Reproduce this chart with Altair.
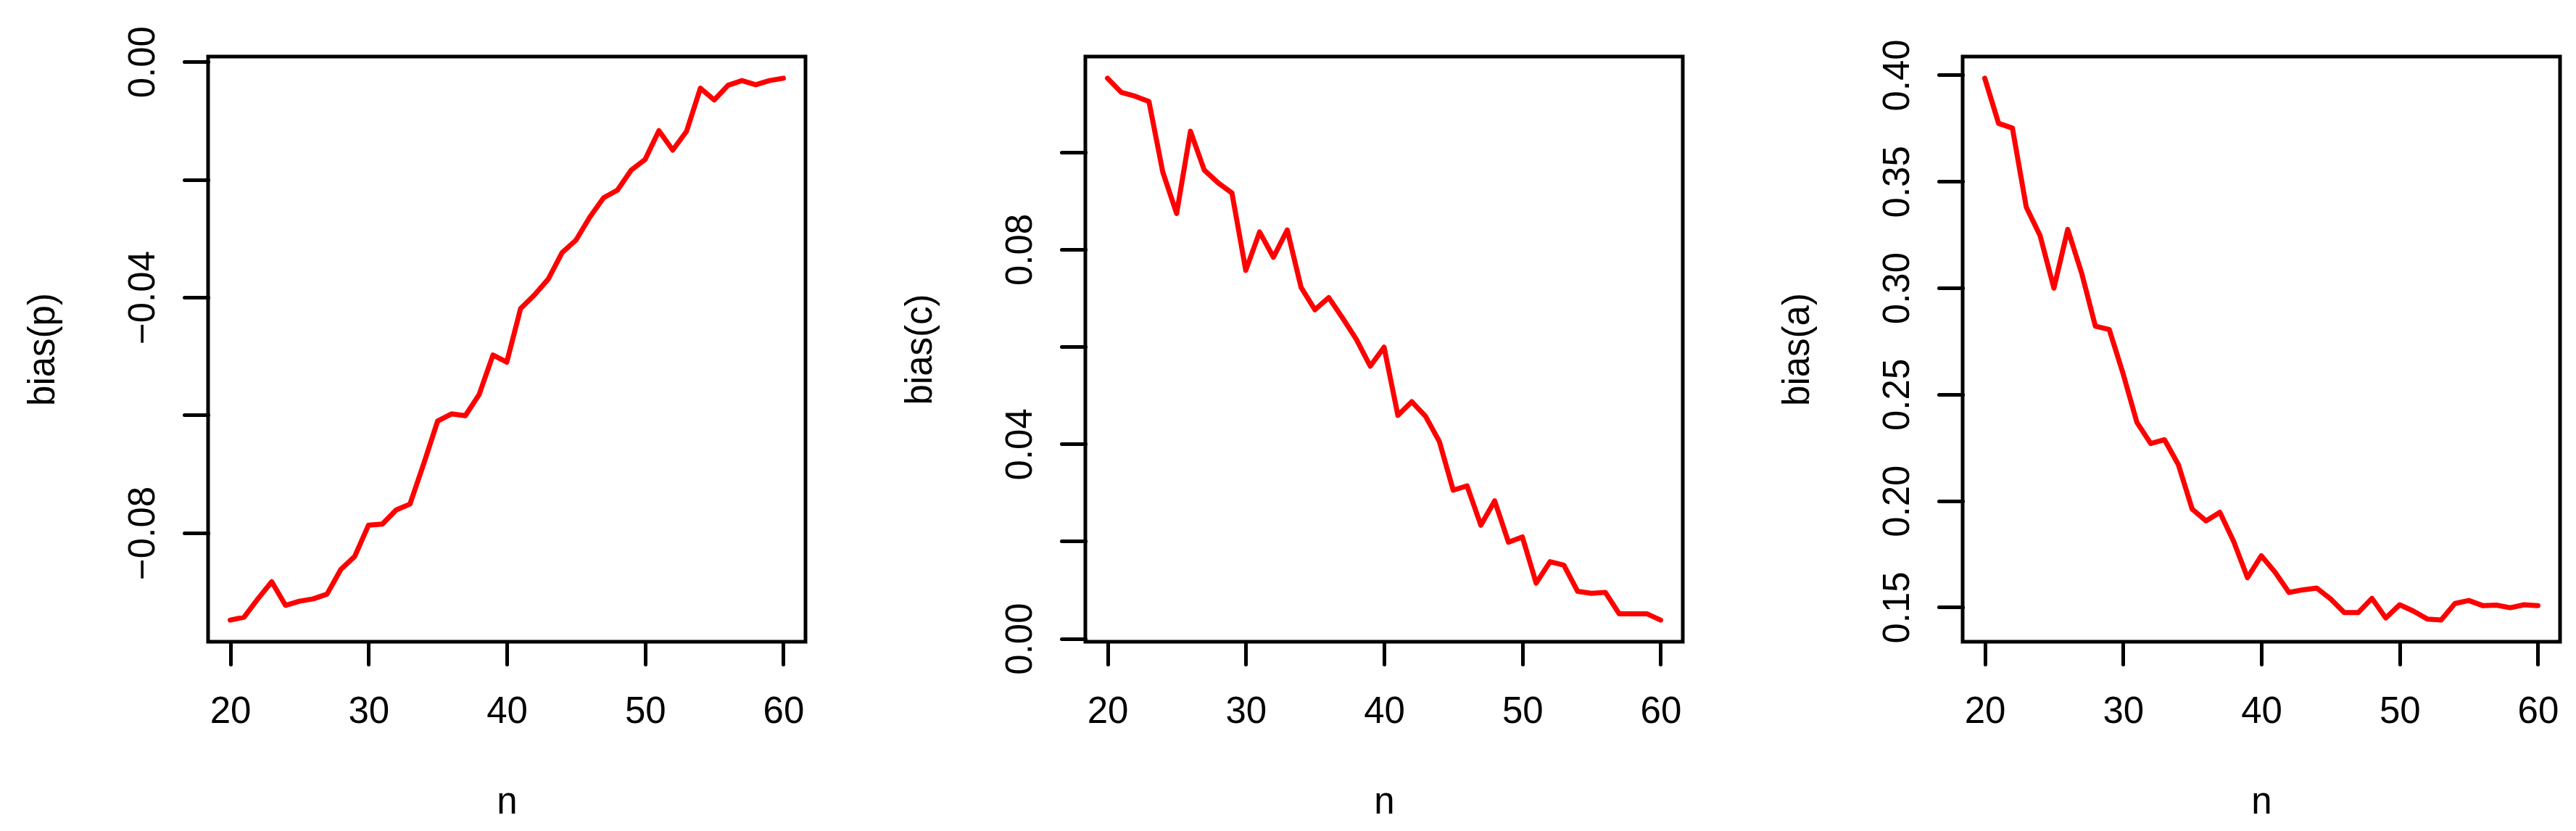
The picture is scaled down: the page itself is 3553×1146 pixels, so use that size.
import altair as alt
import pandas as pd

# sample sizes
n_values = list(range(20, 61))

# bias of p (panel 1)
bias_p = [-0.0948, -0.0943, -0.0912, -0.0883, -0.0923, -0.0916, -0.0912, -0.0904,
          -0.0862, -0.0840, -0.0787, -0.0785, -0.0761, -0.0751, -0.0682, -0.0610,
          -0.0598, -0.0601, -0.0565, -0.0498, -0.0510, -0.0419, -0.0396, -0.0369,
          -0.0324, -0.0303, -0.0264, -0.0231, -0.0218, -0.0184, -0.0166, -0.0117,
          -0.0150, -0.0118, -0.0045, -0.0065, -0.0040, -0.0032, -0.0039, -0.0032,
          -0.0028]

# bias of c (panel 2)
bias_c = [0.1152, 0.1123, 0.1115, 0.1104, 0.0959, 0.0874, 0.1043, 0.0963,
          0.0937, 0.0916, 0.0757, 0.0836, 0.0784, 0.0840, 0.0722, 0.0676,
          0.0701, 0.0659, 0.0615, 0.0560, 0.0599, 0.0459, 0.0487, 0.0457,
          0.0405, 0.0305, 0.0314, 0.0233, 0.0283, 0.0198, 0.0209, 0.0114,
          0.0158, 0.0151, 0.0097, 0.0093, 0.0095, 0.0051, 0.0051, 0.0051,
          0.0038]

# bias of a (panel 3)
bias_a = [0.3985, 0.3773, 0.3751, 0.3380, 0.3246, 0.2999, 0.3275, 0.3071,
          0.2820, 0.2805, 0.2598, 0.2369, 0.2269, 0.2287, 0.2170, 0.1961,
          0.1906, 0.1946, 0.1809, 0.1639, 0.1742, 0.1664, 0.1570, 0.1582,
          0.1590, 0.1540, 0.1475, 0.1475, 0.1542, 0.1450, 0.1512, 0.1482,
          0.1445, 0.1440, 0.1518, 0.1532, 0.1508, 0.1510, 0.1498, 0.1512,
          0.1508]

x_ticks = [20, 30, 40, 50, 60]
ticks_p = [0.0, -0.02, -0.04, -0.06, -0.08]
ticks_c = [0.0, 0.02, 0.04, 0.06, 0.08, 0.10]
ticks_a = [0.15, 0.20, 0.25, 0.30, 0.35, 0.40]

FONT = "Liberation Sans"
FS = 51
W, H = 824, 807

every4 = "abs(round(datum.value*100)) % 4 == 0 ? format(datum.value, '.2f') : ''"
plain = "format(datum.value, '.2f')"


def r_domain(vals):
    lo, hi = min(vals), max(vals)
    r = hi - lo
    return [lo - 0.04 * r, hi + 0.04 * r]


def panel(vals, title, yticks, label_expr):
    df = pd.DataFrame({"n": n_values, "v": vals})
    xdom = r_domain(n_values)
    ydom = r_domain(vals)
    return alt.Chart(df).mark_line(
        color="#ff0000", strokeWidth=7, strokeCap="round", strokeJoin="round"
    ).encode(
        x=alt.X("n:Q",
                scale=alt.Scale(domain=xdom, nice=False, zero=False),
                axis=alt.Axis(values=x_ticks, title="n", format="d",
                              domain=False, grid=False,
                              tickSize=31, tickWidth=5, tickColor="black", tickCap="round",
                              labelPadding=80, labelAngle=0, labelAlign="center",
                              labelBaseline="alphabetic", labelFlush=False, labelOverlap=False,
                              labelFont=FONT, labelFontSize=FS, labelColor="black",
                              titleFont=FONT, titleFontSize=FS, titleFontWeight="normal",
                              titleColor="black", titleX=W / 2, titleY=236,
                              titleAlign="center", titleBaseline="alphabetic")),
        y=alt.Y("v:Q",
                scale=alt.Scale(domain=ydom, nice=False, zero=False),
                axis=alt.Axis(values=yticks, title=title, labelExpr=label_expr,
                              domain=False, grid=False,
                              tickSize=33, tickWidth=5, tickColor="black", tickCap="round",
                              labelPadding=42, labelAngle=270, labelAlign="center",
                              labelBaseline="alphabetic", labelFlush=False, labelOverlap=False,
                              labelFont=FONT, labelFontSize=FS, labelColor="black",
                              titleFont=FONT, titleFontSize=FS, titleFontWeight="normal",
                              titleColor="black", titleAngle=270, titleX=-213, titleY=H / 2,
                              titleAlign="center", titleBaseline="alphabetic")),
    ).properties(width=W, height=H)


c1 = panel(bias_p, "bias(p)", ticks_p, every4)
c2 = panel(bias_c, "bias(c)", ticks_c, every4)
c3 = panel(bias_a, "bias(a)", ticks_a, plain)

chart = alt.hconcat(c1, c2, c3, spacing=386, bounds="flush").properties(
    padding={"left": 22, "top": 25, "right": 10, "bottom": 10},
    background="white",
).configure_view(stroke="black", strokeWidth=5)

chart.save("out.html", embed_options={"renderer": "svg", "actions": False})
